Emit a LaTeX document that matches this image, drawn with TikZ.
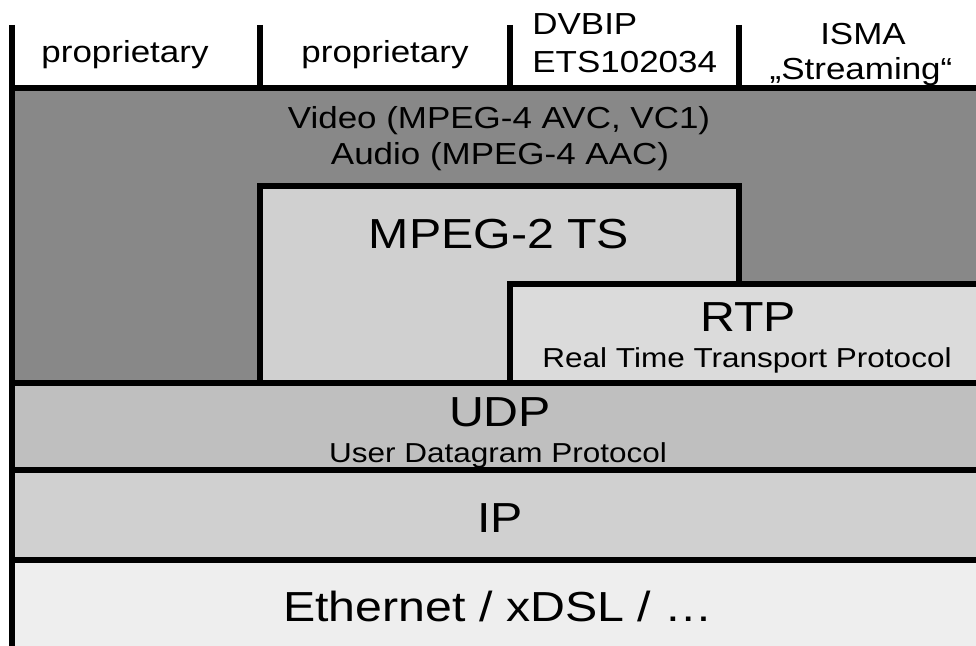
\documentclass[tikz,border=0pt]{standalone}
\usepackage{fontspec}
\setmainfont{Liberation Sans}[FakeStretch=1.15]
\definecolor{codecgray}{HTML}{888888}
\definecolor{tsgray}{HTML}{D0D0D0}
\definecolor{rtpgray}{HTML}{DBDBDB}
\definecolor{udpgray}{HTML}{BFBFBF}
\definecolor{ipgray}{HTML}{D0D0D0}
\definecolor{ethgray}{HTML}{EEEEEE}

\begin{document}
\begin{tikzpicture}[x=0.5pt,y=-0.5pt,
  bar/.style={line width=3pt},
  big/.style={anchor=base,inner sep=0pt,font=\fontsize{21}{25}\selectfont},
  mid/.style={anchor=base,inner sep=0pt,font=\fontsize{15.2}{18}\selectfont},
  small/.style={anchor=base,inner sep=0pt,font=\fontsize{13.7}{16}\selectfont}]
  \useasboundingbox (0,0) rectangle (976,646);
  \fill[white] (0,0) rectangle (976,646);
  \fill[codecgray] (12,88) rectangle (976,383);
  \fill[tsgray] (260,186) rectangle (739,383);
  \fill[rtpgray] (510,284) rectangle (976,383);
  \fill[udpgray] (12,383) rectangle (976,470);
  \fill[ipgray] (12,470) rectangle (976,560);
  \fill[ethgray] (12,560) rectangle (976,646);
  \draw[bar] (12,25) -- (12,646);
  \foreach \x in {260,510,739} \draw[bar] (\x,25) -- (\x,88);
  \foreach \y in {88,383,470,560} \draw[bar] (12,\y) -- (976,\y);
  \draw[bar] (260,383) -- (260,186) -- (739,186) -- (739,284);
  \draw[bar] (510,383) -- (510,284) -- (976,284);
  \node[mid] (prop1) at (125,63) {proprietary};
  \node[mid] (prop2) at (385,63) {proprietary};
  \node[mid,anchor=base west] (dvbip) at (532,35) {DVBIP};
  \node[mid,anchor=base west] (ets) at (532,73) {ETS102034};
  \node[mid] (isma) at (863,45) {ISMA};
  \node[mid] (streaming) at (861,80) {„Streaming“};
  \node[mid] (video) at (499,129) {Video (MPEG-4 AVC, VC1)};
  \node[mid] (audio) at (500,165) {Audio (MPEG-4 AAC)};
  \node[big] (mpeg) at (499,249) {MPEG-2 TS};
  \node[big] (rtp) at (748,332) {RTP};
  \node[small] (rtpsub) at (747,368) {Real Time Transport Protocol};
  \node[big] (udp) at (500,427) {UDP};
  \node[small] (udpsub) at (498,463) {User Datagram Protocol};
  \node[big] (ip) at (500,533) {IP};
  \node[big] (eth) at (498,622) {Ethernet / xDSL / …};
\end{tikzpicture}
\end{document}
